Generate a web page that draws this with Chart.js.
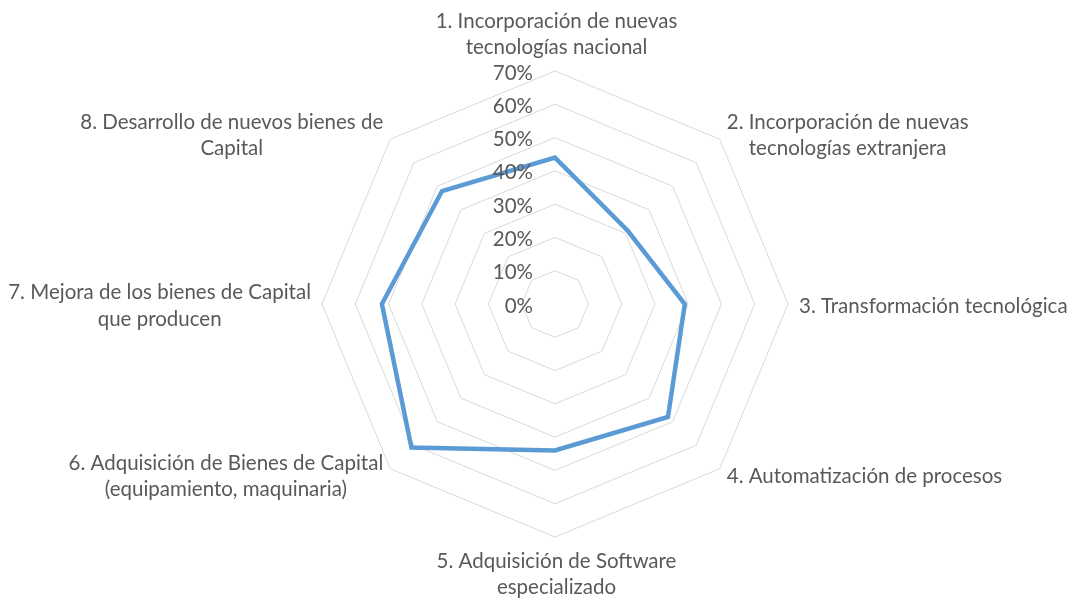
<!DOCTYPE html>
<html><head><meta charset="utf-8">
<script src="https://cdn.jsdelivr.net/npm/chart.js@4/dist/chart.umd.min.js"></script>
<style>html,body{margin:0;padding:0;background:#fff;}#wrap{width:1072px;height:599px;position:relative;}</style>
</head><body><div id="wrap"><canvas id="c"></canvas></div>
<script>
const categories = [
  ['1. Incorporación de nuevas', 'tecnologías nacional'],
  ['2. Incorporación de nuevas', 'tecnologías extranjera'],
  ['3. Transformación tecnológica'],
  ['4. Automatización de procesos'],
  ['5. Adquisición de Software', 'especializado'],
  ['6. Adquisición de Bienes de Capital', '(equipamiento, maquinaria)'],
  ['7. Mejora de los bienes de Capital', 'que producen'],
  ['8. Desarrollo de nuevos bienes de', 'Capital']
];
const seriesValues = [44, 31, 39, 48, 44, 61, 52, 48];
const tickValues = [0, 10, 20, 30, 40, 50, 60, 70];
const tickLabels = ['0%', '10%', '20%', '30%', '40%', '50%', '60%', '70%'];

const FONT = '20.5px Lato';
const TEXT = '#595959';

const labelPlugin = {
  id: 'excelLabels',
  afterDraw(chart) {
    const s = chart.scales.r;
    const ctx = chart.ctx;
    ctx.save();
    ctx.font = FONT;
    ctx.fillStyle = TEXT;
    ctx.textBaseline = 'middle';
    ctx.textAlign = 'right';
    s.ticks.forEach((t, i) => {
      const d = s.getDistanceFromCenterForValue(t.value);
      ctx.fillText(tickLabels[i], s.xCenter - 22, s.yCenter - d + 2);
    });
    const R = s.drawingArea;
    const LH = 26.5;
    chart.data.labels.forEach((lines, i) => {
      const v = s.getPointPosition(i, R);
      const ang = s.getIndexAngle(i) - Math.PI / 2;
      const c = Math.cos(ang), sn = Math.sin(ang);
      const W = Math.max(...lines.map(l => ctx.measureText(l).width));
      const H = lines.length * LH;
      const gap = Math.abs(sn) < 0.1 ? 11 : 7;
      let cx, top;
      if (Math.abs(c) < 0.1) {
        cx = v.x + 1.5;
        top = sn < 0 ? v.y - 10 - H : v.y + 11;
      } else {
        cx = c > 0 ? v.x + gap + W / 2 : v.x - gap - W / 2;
        top = v.y - H / 2 + sn * 8 + 2;
      }
      ctx.textAlign = 'center';
      lines.forEach((l, k) => ctx.fillText(l, cx, top + LH * (k + 0.5)));
    });
    ctx.restore();
  }
};

new Chart(document.getElementById('c'), {
  type: 'radar',
  data: {
    labels: categories,
    datasets: [{
      data: seriesValues,
      borderColor: '#5b9bd5',
      borderWidth: 4.5,
      backgroundColor: 'rgba(0,0,0,0)',
      fill: false,
      pointRadius: 0,
      pointHoverRadius: 0,
      tension: 0,
      borderJoinStyle: 'miter'
    }]
  },
  options: {
    responsive: true,
    maintainAspectRatio: false,
    animation: false,
    layout: { padding: { left: 322, right: 284, top: 71, bottom: 62 } },
    plugins: { legend: { display: false }, tooltip: { enabled: false } },
    scales: {
      r: {
        min: 0,
        max: 70,
        afterBuildTicks: (sc) => { sc.ticks = tickValues.map(v => ({ value: v })); },
        ticks: { display: false, stepSize: 10 },
        grid: { circular: false, color: '#d9d9d9', lineWidth: 1 },
        angleLines: { display: false },
        pointLabels: { display: false }
      }
    }
  },
  plugins: [labelPlugin]
});
</script>
</body></html>
